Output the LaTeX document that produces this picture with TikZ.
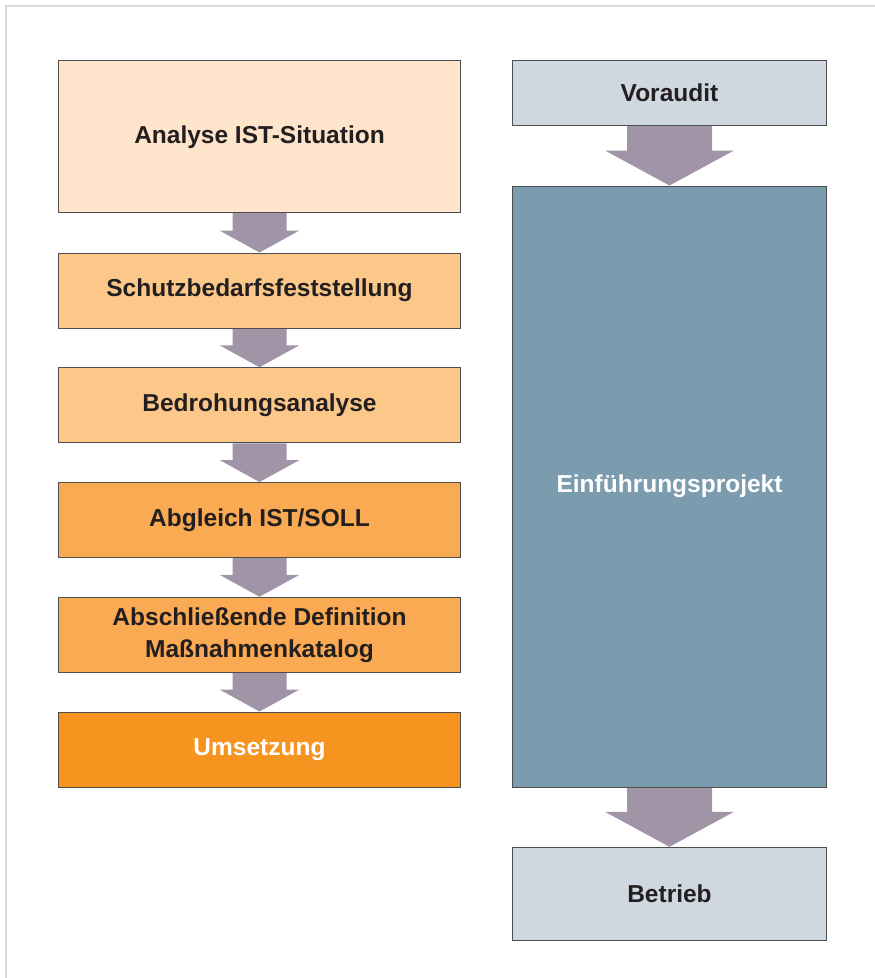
\documentclass[tikz,border=0pt]{standalone}
\usepackage{fontspec}
\setmainfont{Liberation Sans}
\usetikzlibrary{calc,backgrounds}
\definecolor{frameC}{HTML}{D9D9D9}
\definecolor{cA}{HTML}{FDE4CA}
\definecolor{cB}{HTML}{FCC88A}
\definecolor{cC}{HTML}{F9AA52}
\definecolor{cD}{HTML}{F7941F}
\definecolor{cGrey}{HTML}{CFD7E0}
\definecolor{cSteel}{HTML}{7B9BAE}
\definecolor{cArrow}{HTML}{A294A7}
\definecolor{cBorder}{HTML}{4D4D4D}
\definecolor{cText}{HTML}{231F20}
\tikzset{
  boxbase/.style={draw=cBorder, line width=1pt, inner sep=0pt, align=center,
    font=\fontsize{24.5}{32}\selectfont\bfseries, text=cText},
  leftbox/.style={boxbase, minimum width=402pt, minimum height=75pt},
  rightbox/.style={boxbase, minimum width=314pt},
}
\newcommand\blockarr[5]{%
  \fill[cArrow] ($(#1.south)+(-#3,0)$) -- ($(#1.south)+(#3,0)$)
    -- ($(#2.north)+(#3,-#5)$) -- ($(#2.north)+(#4,-#5)$) -- (#2.north)
    -- ($(#2.north)+(-#4,-#5)$) -- ($(#2.north)+(-#3,-#5)$) -- cycle;}
\begin{document}
\begin{tikzpicture}[x=1pt,y=-1pt]
\useasboundingbox (0,0) rectangle (875,978);
\draw[frameC, line width=2.4pt] (6,978) -- (6,5.8) -- (875,5.8);
% left column
\node[leftbox, fill=cA, minimum height=152pt] (ana) at (259.5,136.7) {Analyse IST-Situation};
\node[leftbox, fill=cB] (schutz) at (259.5,290.5) {Schutzbedarfsfeststellung};
\node[leftbox, fill=cB] (bedr) at (259.5,405.25) {Bedrohungsanalyse};
\node[leftbox, fill=cC] (abgl) at (259.5,520) {Abgleich IST/SOLL};
\node[leftbox, fill=cC] (absch) at (259.5,634.75) {Abschließende Definition\\Maßnahmenkatalog};
\node[leftbox, fill=cD, text=white] (ums) at (259.5,749.5) {Umsetzung};
% right column
\node[rightbox, fill=cGrey, minimum height=64.3pt] (vor) at (669.5,92.85) {Voraudit};
\node[rightbox, fill=cSteel, minimum height=601pt, text=white] (einf) at (669.5,486.5) {Einführungsprojekt};
\node[rightbox, fill=cGrey, minimum height=93.4pt] (betr) at (669.5,894) {Betrieb};
\begin{scope}[on background layer]
\blockarr{ana}{schutz}{27}{40}{22}
\blockarr{schutz}{bedr}{27}{40}{22}
\blockarr{bedr}{abgl}{27}{40}{22}
\blockarr{abgl}{absch}{27}{40}{22}
\blockarr{absch}{ums}{27}{40}{22}
\blockarr{vor}{einf}{42.5}{64.5}{35}
\blockarr{einf}{betr}{42.5}{64.5}{35}
\end{scope}
\end{tikzpicture}
\end{document}
